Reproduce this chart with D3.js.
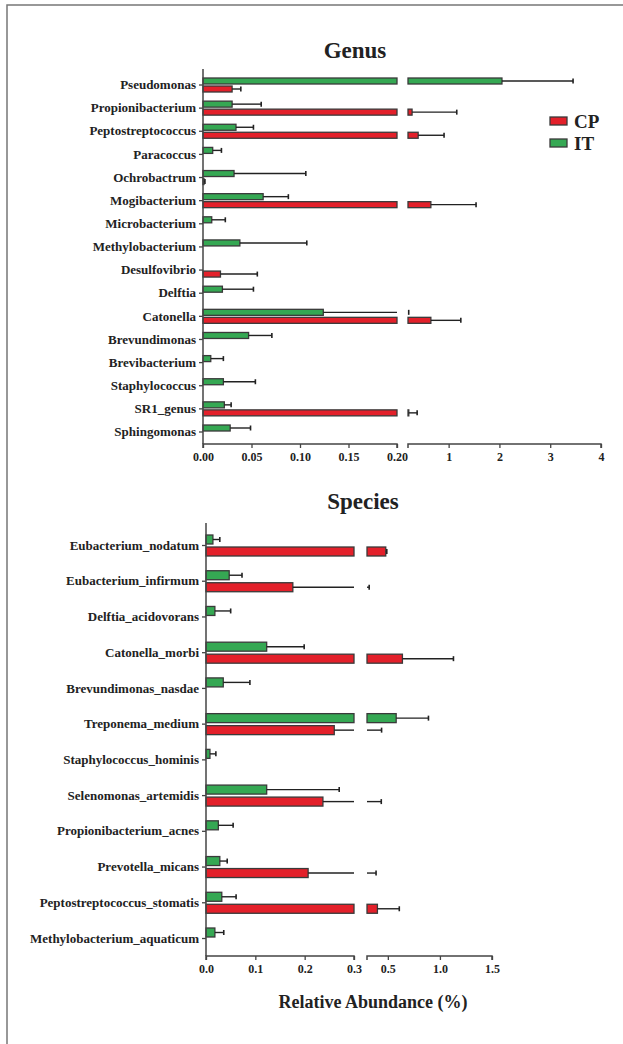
<!DOCTYPE html>
<html>
<head>
<meta charset="utf-8">
<script src="https://cdn.jsdelivr.net/npm/d3@7"></script>
<style>
  body { margin: 0; background: #fff; }
  svg { display: block; }
  svg text { font-family: "Liberation Serif", "Times New Roman", serif !important; font-weight: bold; fill: #222; }
</style>
</head>
<body>
<svg id="chart" width="623" height="1044"></svg>
<script>
// genus panel
const genusNames = ["Pseudomonas", "Propionibacterium", "Peptostreptococcus", "Paracoccus",
  "Ochrobactrum", "Mogibacterium", "Microbacterium", "Methylobacterium", "Desulfovibrio",
  "Delftia", "Catonella", "Brevundimonas", "Brevibacterium", "Staphylococcus", "SR1_genus",
  "Sphingomonas"];
const genusIT    = [2.05, 0.030, 0.034, 0.010, 0.032, 0.062, 0.009, 0.038, 0, 0.020, 0.124, 0.047, 0.008, 0.021, 0.022, 0.028];
const genusITErr = [1.40, 0.030, 0.018, 0.009, 0.074, 0.026, 0.014, 0.069, 0, 0.032, 0.090, 0.024, 0.013, 0.033, 0.007, 0.021];
const genusCP    = [0.030, 0.28, 0.40, 0, 0.001, 0.65, 0, 0, 0.018, 0, 0.65, 0, 0, 0, 0.21, 0];
const genusCPErr = [0.009, 0.88, 0.51, 0, 0.001, 0.89, 0, 0, 0.038, 0, 0.59, 0, 0, 0, 0.17, 0];
const genusTicks1 = [0, 0.05, 0.10, 0.15, 0.20];
const genusTicks2 = [1, 2, 3, 4];

// species panel
const speciesNames = ["Eubacterium_nodatum", "Eubacterium_infirmum", "Delftia_acidovorans",
  "Catonella_morbi", "Brevundimonas_nasdae", "Treponema_medium", "Staphylococcus_hominis",
  "Selenomonas_artemidis", "Propionibacterium_acnes", "Prevotella_micans",
  "Peptostreptococcus_stomatis", "Methylobacterium_aquaticum"];
const speciesIT    = [0.014, 0.047, 0.018, 0.123, 0.035, 0.58, 0.008, 0.123, 0.025, 0.028, 0.032, 0.018];
const speciesITErr = [0.014, 0.026, 0.032, 0.076, 0.054, 0.31, 0.012, 0.147, 0.030, 0.015, 0.029, 0.018];
const speciesCP    = [0.48, 0.176, 0, 0.64, 0, 0.260, 0, 0.237, 0, 0.207, 0.40, 0];
const speciesCPErr = [0.01, 0.145, 0, 0.49, 0, 0.18, 0, 0.20, 0, 0.18, 0.21, 0];
const speciesTicks1 = [0, 0.1, 0.2, 0.3];
const speciesTicks2 = [0.5, 1.0, 1.5];

const RED = "#e3202a", GREEN = "#35a853", EDGE = "#3a3a3a";
const SERIF = '"Liberation Serif", "Times New Roman", serif';
const svg = d3.select("#chart");

// frame
svg.append("path").attr("d", "M7,1044V5H623").attr("fill", "none")
  .attr("stroke", "#777").attr("stroke-width", 1.5);

function panel(opt) {
  const g = svg.append("g");
  const y = d3.scalePoint().domain(opt.names).range(opt.yRange);
  const segs = [
    { x: d3.scaleLinear().domain(opt.dom1).range(opt.rng1), ticks: opt.ticks1, fmt: opt.fmt1 },
    { x: d3.scaleLinear().domain(opt.dom2).range(opt.rng2), ticks: opt.ticks2, fmt: opt.fmt2 }
  ];

  const rows = opt.names.map((n, i) => [
    { name: n, v: opt.it[i], e: opt.itErr[i], col: GREEN, dy: opt.greenDy },
    { name: n, v: opt.cp[i], e: opt.cpErr[i], col: RED, dy: opt.redDy }
  ]).flat().filter(d => d.v > 0);

  segs.forEach(s => {
    const [d0, d1] = s.x.domain();
    // bars (broken at segment edges)
    g.selectAll(null).data(rows.filter(d => d.v > d0)).enter().append("rect")
      .attr("x", s.x(d0))
      .attr("y", d => y(d.name) + d.dy)
      .attr("width", d => Math.max(0.8, s.x(Math.min(d.v, d1)) - s.x(d0)))
      .attr("height", opt.barH)
      .attr("fill", d => d.col)
      .attr("stroke", EDGE).attr("stroke-width", 1.3);
    // error whiskers
    const errs = rows.filter(d => d.e > 0 && d.v + d.e > d0 && d.v < d1);
    g.selectAll(null).data(errs).enter().append("line")
      .attr("x1", d => s.x(Math.max(d.v, d0)))
      .attr("x2", d => s.x(Math.min(d.v + d.e, d1)))
      .attr("y1", d => y(d.name) + d.dy + opt.barH / 2)
      .attr("y2", d => y(d.name) + d.dy + opt.barH / 2)
      .attr("stroke", "#222").attr("stroke-width", 1.4);
    g.selectAll(null).data(errs.filter(d => d.v + d.e <= d1)).enter().append("line")
      .attr("x1", d => s.x(d.v + d.e)).attr("x2", d => s.x(d.v + d.e))
      .attr("y1", d => y(d.name) + d.dy + opt.barH / 2 - 2.5)
      .attr("y2", d => y(d.name) + d.dy + opt.barH / 2 + 2.5)
      .attr("stroke", "#222").attr("stroke-width", 1.6);

    // x axis segment
    const ax = g.append("g").attr("transform", `translate(0,${opt.axisY})`)
      .call(d3.axisBottom(s.x).tickValues(s.ticks).tickSize(4).tickSizeOuter(4).tickPadding(4)
        .tickFormat(s.fmt));
    ax.attr("font-family", SERIF).attr("font-size", 12);
    ax.select(".domain").attr("stroke", "#444").attr("stroke-width", 1.5)
      .attr("d", `M${s.x(d0)},4V0H${s.x(d1)}V4`);
    ax.selectAll(".tick line").attr("stroke", "#444").attr("stroke-width", 1.3);
    ax.selectAll(".tick text").attr("fill", "#333");
  });

  // y axis
  const ay = g.append("g").attr("transform", `translate(${opt.rng1[0]},0)`)
    .call(d3.axisLeft(y).tickSize(4).tickSizeOuter(0).tickPadding(3));
  ay.attr("font-family", SERIF).attr("font-size", 13);
  ay.select(".domain").attr("stroke", "#444").attr("stroke-width", 1.5)
    .attr("d", `M0,${opt.yTop}V${opt.axisY}`);
  ay.selectAll(".tick line").attr("stroke", "#444").attr("stroke-width", 1.3);
  ay.selectAll(".tick text").attr("fill", "#333");

  // title
  g.append("text").attr("x", opt.titleX).attr("y", opt.titleY).attr("text-anchor", "middle")
    .style("font-size", "23px").text(opt.title);
}

panel({
  title: "Genus", titleX: 355, titleY: 58,
  names: genusNames, it: genusIT, itErr: genusITErr, cp: genusCP, cpErr: genusCPErr,
  yRange: [84.5, 431.5], yTop: 69, axisY: 444,
  dom1: [0, 0.20], rng1: [203, 397], ticks1: genusTicks1, fmt1: d3.format(".2f"),
  dom2: [0.20, 4], rng2: [408, 601], ticks2: genusTicks2, fmt2: d3.format("d"),
  barH: 6, greenDy: -6.5, redDy: 1.5
});

panel({
  title: "Species", titleX: 363, titleY: 509,
  names: speciesNames, it: speciesIT, itErr: speciesITErr, cp: speciesCP, cpErr: speciesCPErr,
  yRange: [545, 938], yTop: 523, axisY: 956,
  dom1: [0, 0.3], rng1: [206, 354], ticks1: speciesTicks1, fmt1: d3.format(".1f"),
  dom2: [0.3, 1.5], rng2: [367, 492], ticks2: speciesTicks2, fmt2: d3.format(".1f"),
  barH: 9, greenDy: -10, redDy: 2
});

// x axis title
svg.append("text").attr("x", 373).attr("y", 1008).attr("text-anchor", "middle")
  .style("font-size", "18px").text("Relative Abundance (%)");

// legend
const legend = svg.append("g");
[["CP", RED], ["IT", GREEN]].forEach(([name, col], i) => {
  legend.append("rect").attr("x", 550).attr("y", 117 + i * 22).attr("width", 17).attr("height", 8)
    .attr("fill", col).attr("stroke", EDGE).attr("stroke-width", 1.3);
  legend.append("text").attr("x", 574).attr("y", 128 + i * 22).style("font-size", "19px").text(name);
});
</script>
</body>
</html>
